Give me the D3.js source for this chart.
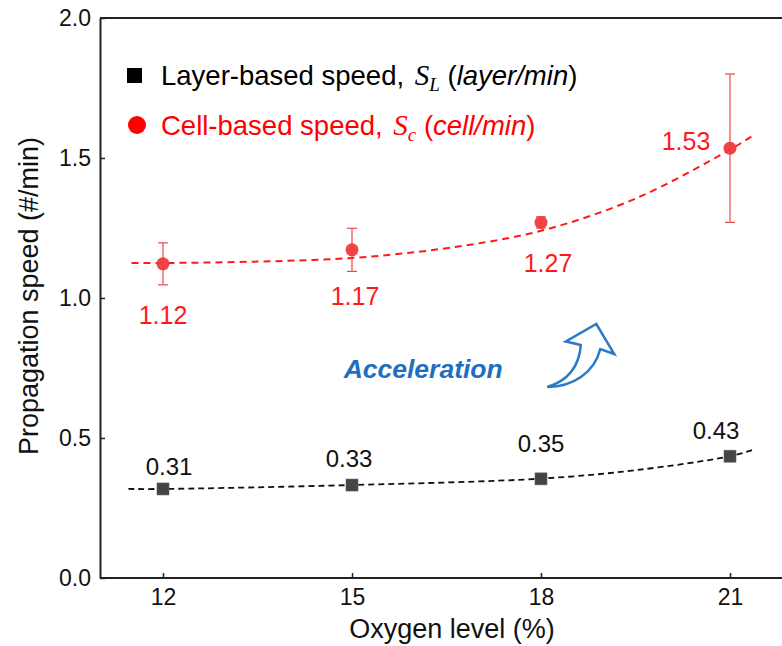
<!DOCTYPE html>
<html>
<head>
<meta charset="utf-8">
<script src="https://cdn.jsdelivr.net/npm/d3@7"></script>
<style>
  body { margin: 0; background: #fff; }
  text { font-family: "Liberation Sans", Arial, sans-serif; }
</style>
</head>
<body>
<svg id="chart"></svg>
<script>
// values
const oxygen = [12, 15, 18, 21];
const layerSpeed = [0.318, 0.332, 0.354, 0.435];
const layerLabels = ["0.31", "0.33", "0.35", "0.43"];
const cellSpeed = [1.122, 1.172, 1.27, 1.535];
const cellError = [0.075, 0.077, 0.02, 0.265];
const cellLabels = ["1.12", "1.17", "1.27", "1.53"];

// dashed trend lines
const cellFitX = [11.5, 12, 13.5, 15, 16.5, 18, 19.5, 21, 21.4];
const cellFitY = [1.125, 1.125, 1.13, 1.143, 1.178, 1.24, 1.355, 1.53, 1.585];
const layerFitX = [11.45, 12, 15, 18, 19.5, 21, 21.4];
const layerFitY = [0.318, 0.318, 0.332, 0.355, 0.385, 0.435, 0.46];

const yTicks = [0, 0.5, 1.0, 1.5, 2.0];

// label offsets in px (dx, dy from the point)
const cellLabelOffset = [[0, 60], [3, 55], [7, 50], [-44, 2]];
const layerLabelOffset = [[6, -14], [-3, -18], [0, -27], [-14, -17]];

const width = 782;
const height = 646;
const red = "#ff1a1a";

const svg = d3.select("#chart").attr("width", width).attr("height", height);

const x = d3.scaleLinear().domain([11, 22]).range([100, 793]);
const y = d3.scaleLinear().domain([0, 2]).range([578, 18]);

// frame: top line
svg.append("line")
  .attr("x1", x(11)).attr("x2", width)
  .attr("y1", y(2)).attr("y2", y(2))
  .attr("stroke", "#222").attr("stroke-width", 2);

const xAxis = svg.append("g")
  .attr("transform", `translate(0,${y(0)})`)
  .call(d3.axisBottom(x).tickValues(oxygen).tickSizeInner(-5).tickSizeOuter(0).tickPadding(11));

const yAxis = svg.append("g")
  .attr("transform", `translate(${x(11)},0)`)
  .call(d3.axisLeft(y).tickValues(yTicks).tickFormat(d3.format(".1f"))
    .tickSizeInner(-5).tickSizeOuter(0).tickPadding(9));

[xAxis, yAxis].forEach((g) => {
  g.select(".domain").attr("stroke", "#222").attr("stroke-width", 2);
  g.selectAll(".tick line").attr("stroke", "#222").attr("stroke-width", 1.5);
  g.selectAll(".tick text").attr("font-size", 23).attr("fill", "#111")
    .attr("font-family", "Liberation Sans, Arial, sans-serif");
});
xAxis.select(".domain").attr("d", `M${x(11)},0H${width}`);

// axis titles
svg.append("text")
  .attr("x", 452)
  .attr("y", 638)
  .attr("text-anchor", "middle")
  .attr("font-size", 27)
  .attr("fill", "#111")
  .text("Oxygen level (%)");

svg.append("text")
  .attr("transform", `translate(38,${y(1) - 2}) rotate(-90)`)
  .attr("text-anchor", "middle")
  .attr("font-size", 27)
  .attr("fill", "#111")
  .text("Propagation speed (#/min)");

// trend lines
const line = d3.line().x((d) => x(d[0])).y((d) => y(d[1])).curve(d3.curveCatmullRom);

svg.append("path")
  .datum(cellFitX.map((v, i) => [v, cellFitY[i]]))
  .attr("d", line)
  .attr("fill", "none")
  .attr("stroke", red)
  .attr("stroke-width", 2)
  .attr("stroke-dasharray", "7,5");

svg.append("path")
  .datum(layerFitX.map((v, i) => [v, layerFitY[i]]))
  .attr("d", line)
  .attr("fill", "none")
  .attr("stroke", "#111")
  .attr("stroke-width", 1.8)
  .attr("stroke-dasharray", "6,4");

// error bars
const err = svg.append("g").attr("stroke", "#e84a4a").attr("stroke-width", 1.2);
oxygen.forEach((o, i) => {
  const top = y(cellSpeed[i] + cellError[i]);
  const bot = y(cellSpeed[i] - cellError[i]);
  err.append("line").attr("x1", x(o)).attr("x2", x(o)).attr("y1", top).attr("y2", bot);
  err.append("line").attr("x1", x(o) - 5).attr("x2", x(o) + 5).attr("y1", top).attr("y2", top);
  err.append("line").attr("x1", x(o) - 5).attr("x2", x(o) + 5).attr("y1", bot).attr("y2", bot);
});

// points
svg.selectAll(".cell")
  .data(oxygen)
  .enter()
  .append("circle")
  .attr("cx", (d) => x(d))
  .attr("cy", (d, i) => y(cellSpeed[i]))
  .attr("r", 6.5)
  .attr("fill", "#ee3b3b")
  .attr("opacity", 0.95);

svg.selectAll(".layer")
  .data(oxygen)
  .enter()
  .append("rect")
  .attr("x", (d) => x(d) - 6)
  .attr("y", (d, i) => y(layerSpeed[i]) - 6)
  .attr("width", 12)
  .attr("height", 12)
  .attr("fill", "#444")
  .attr("stroke", "#666")
  .attr("stroke-width", 0.6);

// value labels
svg.selectAll(".cell-label")
  .data(oxygen)
  .enter()
  .append("text")
  .attr("x", (d, i) => x(d) + cellLabelOffset[i][0])
  .attr("y", (d, i) => y(cellSpeed[i]) + cellLabelOffset[i][1])
  .attr("text-anchor", "middle")
  .attr("font-size", 25)
  .attr("fill", red)
  .text((d, i) => cellLabels[i]);

svg.selectAll(".layer-label")
  .data(oxygen)
  .enter()
  .append("text")
  .attr("x", (d, i) => x(d) + layerLabelOffset[i][0])
  .attr("y", (d, i) => y(layerSpeed[i]) + layerLabelOffset[i][1])
  .attr("text-anchor", "middle")
  .attr("font-size", 24)
  .attr("fill", "#111")
  .text((d, i) => layerLabels[i]);

// legend
svg.append("rect").attr("x", 127).attr("y", 68).attr("width", 15).attr("height", 15).attr("fill", "#000");
svg.append("circle").attr("cx", 137).attr("cy", 125).attr("r", 9).attr("fill", "#ff0000");

function legendText(yPos, color, before, sub, unit) {
  const t = svg.append("text").attr("x", 161).attr("y", yPos).attr("font-size", 27.5).attr("fill", color);
  t.append("tspan").text(before);
  t.append("tspan").attr("font-family", "Liberation Serif, Times New Roman, serif")
    .attr("font-style", "italic").attr("font-size", 29).attr("dx", 3).text("S");
  t.append("tspan").attr("font-family", "Liberation Serif, Times New Roman, serif")
    .attr("font-style", "italic").attr("font-size", 19).attr("dy", 6).text(sub);
  t.append("tspan").attr("dy", -6).text(" (");
  t.append("tspan").attr("font-style", "italic").text(unit);
  t.append("tspan").text(")");
}
legendText(85, "#000", "Layer-based speed, ", "L", "layer/min");
legendText(135, "#ff0000", "Cell-based speed, ", "c", "cell/min");

// annotation
svg.append("text")
  .attr("x", x(16.13))
  .attr("y", y(0.715))
  .attr("text-anchor", "middle")
  .attr("font-size", 26.5)
  .attr("font-weight", "bold")
  .attr("font-style", "italic")
  .attr("fill", "#1f6fc0")
  .text("Acceleration");

const ax = x(18.1);
const ay = y(0.682);
svg.append("path")
  .attr("transform", `translate(${ax},${ay})`)
  .attr("d", "M0,0 C22,-7 32,-21 33.5,-42 L18.5,-45.5 L49,-63 L67,-33 L53,-38 C47,-14 25,0 0,0 Z")
  .attr("fill", "#fff")
  .attr("stroke", "#2a7ac6")
  .attr("stroke-width", 2.5)
  .attr("stroke-linejoin", "miter");
</script>
</body>
</html>
